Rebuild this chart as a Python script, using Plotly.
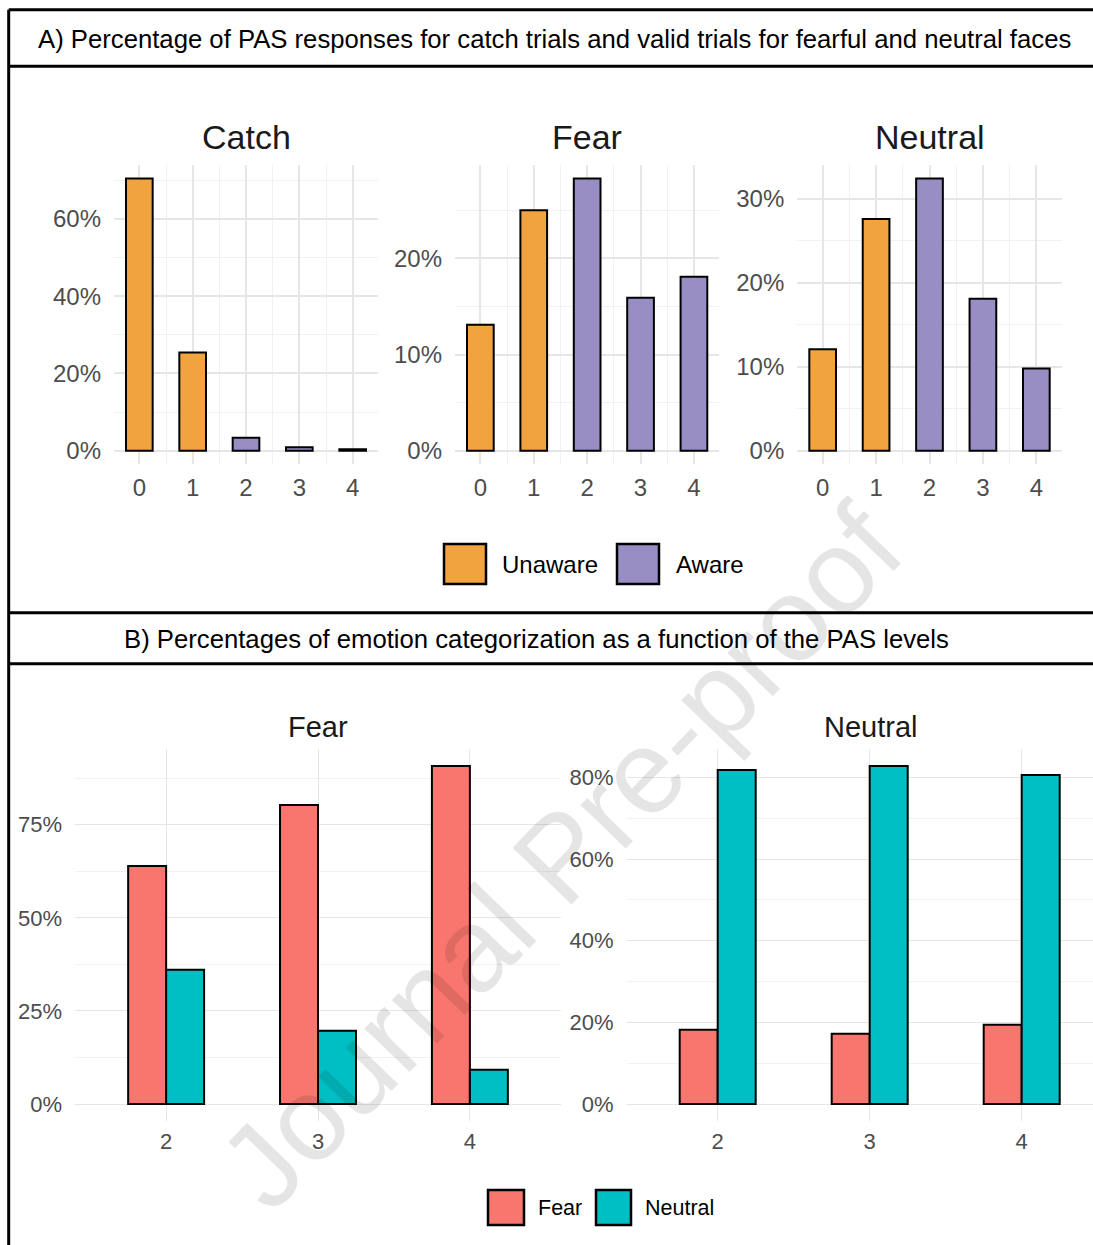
import plotly.graph_objects as go

W, H = 1093, 1245

# ---- Panel A: distribution of PAS ratings (percent of trials) ----
pas_levels = [0, 1, 2, 3, 4]
awareness = ["Unaware", "Unaware", "Aware", "Aware", "Aware"]
catch_pct = [70.4, 25.4, 3.4, 0.9, 0.4]
fear_pct = [13.1, 25.0, 28.3, 15.9, 18.1]
neutral_pct = [12.1, 27.6, 32.4, 18.1, 9.8]
panel_a_titles = ["Catch", "Fear", "Neutral"]
awareness_groups = ["Unaware", "Aware"]

# ---- Panel B: emotion categorization per PAS level (percent) ----
aware_levels = [2, 3, 4]
fear_faces_as_fear = [63.9, 80.3, 90.8]
fear_faces_as_neutral = [36.1, 19.7, 9.2]
neutral_faces_as_fear = [18.2, 17.2, 19.4]
neutral_faces_as_neutral = [81.8, 82.8, 80.6]
panel_b_titles = ["Fear", "Neutral"]
response_labels = ["Fear", "Neutral"]

title_a = "A) Percentage of PAS responses for catch trials and valid trials for fearful and neutral faces"
title_b = "B) Percentages of emotion categorization as a function of the PAS levels"
watermark = "Journal Pre-proof"

awareness_colors = {"Unaware": "#F1A340", "Aware": "#998EC3"}
response_colors = {"Fear": "#F8766D", "Neutral": "#00BFC4"}

FONT = "Liberation Sans, Arial, sans-serif"
TICK_GREY = "#4D4D4D"
GRID_MAJOR = "#E6E6E6"
GRID_MINOR = "#F1F1F1"


def px(x):
    return x / W


def py(y):
    return 1 - y / H


fig = go.Figure()

# Panel A bars: one subplot per trial type, coloured by awareness group
a_series = [catch_pct, fear_pct, neutral_pct]
for i, values in enumerate(a_series):
    ax = "" if i == 0 else str(i + 1)
    for grp in awareness_groups:
        xs = [lv for lv, a in zip(pas_levels, awareness) if a == grp]
        ys = [v for v, a in zip(values, awareness) if a == grp]
        fig.add_trace(go.Bar(
            x=xs, y=ys, width=0.5, name=grp, showlegend=False,
            marker=dict(color=awareness_colors[grp], line=dict(color="black", width=2)),
            xaxis="x" + ax, yaxis="y" + ax,
        ))

# Panel B bars: dodged Fear / Neutral responses
b_series = [
    (fear_faces_as_fear, fear_faces_as_neutral),
    (neutral_faces_as_fear, neutral_faces_as_neutral),
]
for j, (resp_fear, resp_neutral) in enumerate(b_series):
    ax = str(j + 4)
    for lab, vals, off in zip(response_labels, (resp_fear, resp_neutral), (-0.25, 0.0)):
        fig.add_trace(go.Bar(
            x=aware_levels, y=vals, width=0.25, offset=off, name=lab, showlegend=False,
            marker=dict(color=response_colors[lab], line=dict(color="black", width=2)),
            xaxis="x" + ax, yaxis="y" + ax,
        ))


def y_range(values):
    m = max(values)
    return [-0.05 * m, 1.05 * m]


layout_axes = {}
a_x_domains = [(114, 378), (455, 719.3), (797.3, 1061.7)]
a_y_dticks = [20, 10, 10]
for i, (values, (x0, x1), dt) in enumerate(zip(a_series, a_x_domains, a_y_dticks)):
    k = "" if i == 0 else str(i + 1)
    layout_axes["xaxis" + k] = dict(
        domain=[px(x0), px(x1)], anchor="y" + k, range=[-0.475, 4.475],
        tickmode="linear", tick0=0, dtick=1,
        showgrid=True, gridcolor=GRID_MAJOR, gridwidth=1.6, zeroline=False,
        minor=dict(dtick=0.5, tick0=0, showgrid=True, gridcolor=GRID_MINOR, gridwidth=1),
        tickfont=dict(size=24, color=TICK_GREY, family=FONT), ticklabelstandoff=7,
        fixedrange=True,
    )
    layout_axes["yaxis" + k] = dict(
        domain=[py(464.4), py(165)], anchor="x" + k, range=y_range(values),
        tickmode="linear", tick0=0, dtick=dt, ticksuffix="%",
        showgrid=True, gridcolor=GRID_MAJOR, gridwidth=1.6, zeroline=False,
        minor=dict(dtick=dt / 2, tick0=0, showgrid=True, gridcolor=GRID_MINOR, gridwidth=1),
        tickfont=dict(size=24, color=TICK_GREY, family=FONT), ticklabelstandoff=12,
        fixedrange=True,
    )

b_x_domains = [(75, 561), (626.5, W)]
b_x_ranges = [[1.4, 4.6], [1.4, 1.4 + (W - 626.5) / 152.0]]
b_y_dticks = [25, 20]
for j, ((x0, x1), xr, dt) in enumerate(zip(b_x_domains, b_x_ranges, b_y_dticks)):
    k = str(j + 4)
    vals = b_series[j][0] + b_series[j][1]
    layout_axes["xaxis" + k] = dict(
        domain=[px(x0), px(x1)], anchor="y" + k, range=xr,
        tickvals=aware_levels, ticktext=[str(v) for v in aware_levels],
        showgrid=True, gridcolor=GRID_MAJOR, gridwidth=1.4, zeroline=False,
        tickfont=dict(size=22, color=TICK_GREY, family=FONT), ticklabelstandoff=5,
        fixedrange=True,
    )
    layout_axes["yaxis" + k] = dict(
        domain=[py(1121), py(749)], anchor="x" + k, range=y_range(vals),
        tickmode="linear", tick0=0, dtick=dt, ticksuffix="%",
        showgrid=True, gridcolor=GRID_MAJOR, gridwidth=1.4, zeroline=False,
        minor=dict(dtick=dt / 2, tick0=0, showgrid=True, gridcolor=GRID_MINOR, gridwidth=1),
        tickfont=dict(size=22, color=TICK_GREY, family=FONT), ticklabelstandoff=12,
        fixedrange=True,
    )

annotations = []
shapes = []


def label(text, x, y, size, color="black", xanchor="center", **extra):
    return dict(text=text, x=px(x), y=py(y), xref="paper", yref="paper",
                xanchor=xanchor, yanchor="middle", showarrow=False,
                font=dict(size=size, color=color, family=FONT), **extra)


# Section header texts
annotations.append(label(title_a, 554.5, 39, 25.7))
annotations.append(label(title_b, 536, 639, 25.7))

# Facet titles
for t, (x0, x1) in zip(panel_a_titles, a_x_domains):
    annotations.append(label(t, (x0 + x1) / 2, 137, 34, "#1A1A1A"))
b_title_centers = [318, 871]
for t, cx in zip(panel_b_titles, b_title_centers):
    annotations.append(label(t, cx, 727, 29, "#1A1A1A"))

# Legends drawn as keyed squares with labels
legend_a = [(444, 486, 544, 584, 500), (617, 659, 544, 584, 674)]
for grp, (x0, x1, y0, y1, tx) in zip(awareness_groups, legend_a):
    shapes.append(dict(type="rect", xref="paper", yref="paper", x0=px(x0), x1=px(x1),
                       y0=py(y1), y1=py(y0), fillcolor=awareness_colors[grp],
                       line=dict(color="black", width=2.5)))
    annotations.append(label(grp, tx, (y0 + y1) / 2, 24, xanchor="left"))

legend_b = [(488, 524, 1190, 1225, 536), (596, 631, 1190, 1225, 643)]
for lab, (x0, x1, y0, y1, tx) in zip(response_labels, legend_b):
    shapes.append(dict(type="rect", xref="paper", yref="paper", x0=px(x0), x1=px(x1),
                       y0=py(y1), y1=py(y0), fillcolor=response_colors[lab],
                       line=dict(color="black", width=2.5)))
    annotations.append(label(lab, tx, (y0 + y1) / 2, 21.5, xanchor="left"))

# Frame: outer border and header separators
for yline in (9.7, 66.3, 612.8, 663.8):
    shapes.append(dict(type="line", xref="paper", yref="paper", x0=px(8.7), x1=1.05,
                       y0=py(yline), y1=py(yline), line=dict(color="black", width=3)))
shapes.append(dict(type="line", xref="paper", yref="paper", x0=px(8.7), x1=px(8.7),
                   y0=py(9.7), y1=-0.05, line=dict(color="black", width=3)))

# Diagonal watermark across the page
annotations.append(label(watermark, 560, 856, 119, "rgba(0,0,0,0.10)", textangle=-46))

fig.update_layout(
    width=W, height=H, margin=dict(l=0, r=0, t=0, b=0),
    paper_bgcolor="white", plot_bgcolor="white",
    barmode="overlay", showlegend=False,
    font=dict(family=FONT),
    annotations=annotations, shapes=shapes,
    **layout_axes,
)

fig.write_html("out.html")
